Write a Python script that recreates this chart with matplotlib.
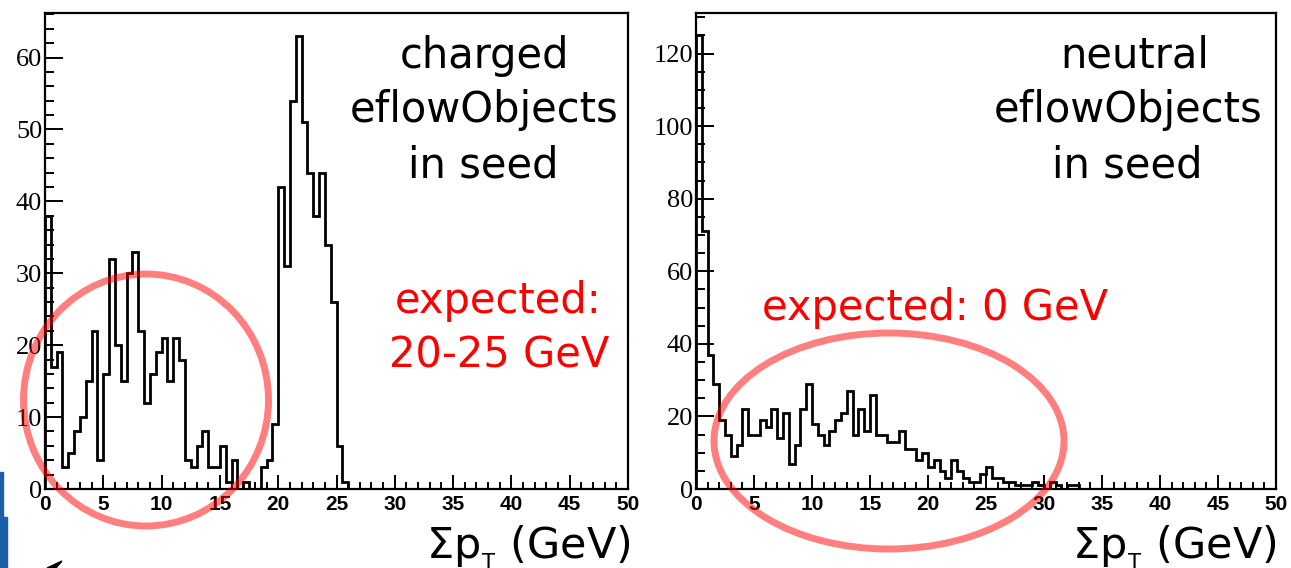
import matplotlib
matplotlib.use("Agg")
import matplotlib.pyplot as plt
import numpy as np
from matplotlib.patches import Ellipse, Rectangle, Polygon
from matplotlib.ticker import MultipleLocator

W, H = 1291, 568

# 100 bins of 0.5 GeV between 0 and 50
edges = np.arange(0, 50.5, 0.5)

# sum pT of charged eflowObjects in seed, bins from 0 to 26 GeV (empty above)
charged_counts = [38, 17, 19, 3, 5, 8, 10, 15, 22, 4,
                  16, 32, 20, 15, 30, 33, 22, 12, 16, 19,
                  21, 15, 21, 18, 4, 3, 6, 8, 3, 3,
                  6, 1, 4, 0, 1, 0, 0, 3, 4, 9,
                  42, 31, 54, 63, 51, 44, 38, 44, 34, 26,
                  6, 1]

# sum pT of neutral eflowObjects in seed, bins from 0 to 33 GeV (empty above)
neutral_counts = [125, 71, 37, 29, 19, 15, 9, 12, 22, 15,
                  15, 19, 17, 22, 14, 21, 7, 12, 22, 29,
                  18, 15, 12, 16, 19, 21, 27, 15, 22, 16,
                  26, 15, 15, 13, 13, 16, 11, 11, 8, 10,
                  6, 8, 5, 3, 8, 5, 3, 2, 2, 4,
                  6, 3, 3, 2, 2, 1, 1, 1, 2, 1,
                  0, 2, 1, 0, 1, 1]


def px(x, y):
    return x / W, 1 - y / H


fig = plt.figure(figsize=(W / 100, H / 100), dpi=100)


def hist_panel(left, right, counts, ymax, ymajor, yminor):
    ax = fig.add_axes([left / W, 1 - 489 / H, (right - left) / W, 476 / H])
    full = np.zeros(len(edges) - 1)
    full[:len(counts)] = counts
    ax.stairs(full, edges, color="black", lw=2)
    ax.set_xlim(0, 50)
    ax.set_ylim(0, ymax)
    ax.xaxis.set_major_locator(MultipleLocator(5))
    ax.xaxis.set_minor_locator(MultipleLocator(1))
    ax.yaxis.set_major_locator(MultipleLocator(ymajor))
    ax.yaxis.set_minor_locator(MultipleLocator(yminor))
    ax.tick_params(which="both", direction="in", top=False, right=False, width=1.4)
    ax.tick_params(axis="y", which="major", length=13, pad=2)
    ax.tick_params(axis="y", which="minor", length=6.5)
    ax.tick_params(axis="x", which="major", length=10, pad=4)
    ax.tick_params(axis="x", which="minor", length=5)
    for lab in ax.get_yticklabels():
        lab.set_fontfamily("Liberation Serif")
        lab.set_fontsize(19)
    for lab in ax.get_xticklabels():
        lab.set_fontfamily("Liberation Sans")
        lab.set_fontweight("bold")
        lab.set_fontsize(15)
    for sp in ax.spines.values():
        sp.set_linewidth(1.6)
    return ax


ax1 = hist_panel(45, 628, charged_counts, 66.2, 10, 2)
ax2 = hist_panel(696, 1276, neutral_counts, 131.2, 20, 5)


def label(x, y, s, color="black", size=30):
    fig.text(*px(x, y), s, ha="center", va="baseline", fontsize=size,
             color=color, family="DejaVu Sans")


label(484, 68, "charged")
label(484, 122, "eflowObjects")
label(483, 177, "in seed")
label(498, 313, "expected:", color="red")
label(499, 368, "20-25 GeV", color="red")

label(1135, 68, "neutral")
label(1128, 122, "eflowObjects")
label(1127, 177, "in seed")
label(935, 320, "expected: 0 GeV", color="red")

axis_title = r"$\Sigma$p$_{_\mathregular{T}}$ (GeV)"
label(528, 558, axis_title, size=31)
label(1174, 558, axis_title, size=31)

# red highlight rings
for cx, cy, w, h in [(146, 400, 245, 252), (889, 441, 350, 216)]:
    fig.add_artist(Ellipse(px(cx, cy), w / W, h / H, transform=fig.transFigure,
                           fill=False, edgecolor=(1, 0, 0, 0.5), lw=5, zorder=10))

# slide decorations in the lower left corner
fig.add_artist(Rectangle(px(0, 517), 3 / W, 45 / H, transform=fig.transFigure,
                         color="#1a5fa8", zorder=5))
fig.add_artist(Rectangle(px(0, 568), 7 / W, 51 / H, transform=fig.transFigure,
                         color="#1a5fa8", zorder=5))
fig.add_artist(Polygon([px(47, 568), px(62, 561), px(56, 568)], closed=True,
                       transform=fig.transFigure, color="black", zorder=5))

fig.savefig("out.png", dpi=100)
